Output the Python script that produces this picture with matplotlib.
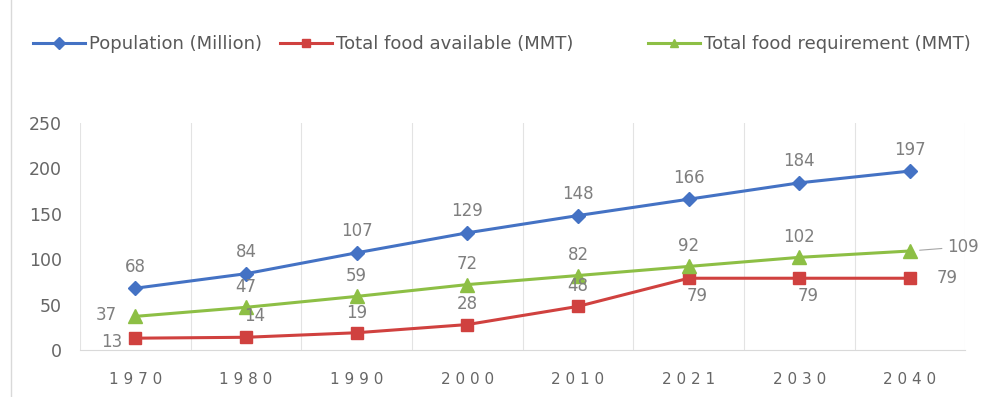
import matplotlib.pyplot as plt
import numpy as np

years = ['1970', '1980', '1990', '2000', '2010', '2021', '2030', '2040']
population = [68, 84, 107, 129, 148, 166, 184, 197]
food_available = [13, 14, 19, 28, 48, 79, 79, 79]
food_required = [37, 47, 59, 72, 82, 92, 102, 109]

blue = '#4472C4'
red = '#D0413F'
green = '#8DBF45'
gray = '#7F7F7F'

fig = plt.figure(figsize=(9.88, 3.97), dpi=100)
ax = fig.add_axes([0.081, 0.1184, 0.896, 0.572])

x = np.arange(len(years))
l1, = ax.plot(x, population, color=blue, lw=2.2, marker='D', ms=7.5, label='Population (Million)')
l2, = ax.plot(x, food_available, color=red, lw=2.2, marker='s', ms=9, label='Total food available (MMT)')
l3, = ax.plot(x, food_required, color=green, lw=2.2, marker='^', ms=9.5, label='Total food requirement (MMT)')

ax.set_xlim(-0.5, len(years) - 0.5)
ax.set_ylim(0, 250)
ax.set_yticks([0, 50, 100, 150, 200, 250])
ax.set_xticks(x)
ax.set_xticklabels([' '.join(y) for y in years])
ax.set_xticks(np.arange(len(years) + 1) - 0.5, minor=True)
ax.grid(True, which='minor', axis='x', color='#E3E3E3', lw=0.8)
ax.tick_params(which='both', length=0)
ax.tick_params(axis='x', pad=16, labelsize=11, colors='#666666')
ax.tick_params(axis='y', pad=13, labelsize=12.5, colors='#666666')
for s in ['top', 'right', 'left']:
    ax.spines[s].set_visible(False)
ax.spines['bottom'].set_color('#D9D9D9')

fs = 12
lab = dict(color=gray, fontsize=fs, ha='center')
for i, v in enumerate(population):
    ax.annotate(str(v), (i, v), xytext=(0, 9), textcoords='offset points', va='bottom', **lab)
for i, v in enumerate(food_required):
    if i == 0:
        ax.annotate(str(v), (i, v), xytext=(-13, 1), textcoords='offset points', va='center',
                    color=gray, fontsize=fs, ha='right')
    elif i == len(years) - 1:
        ax.annotate(str(v), (i, v), xytext=(27, 3), textcoords='offset points', va='center',
                    color=gray, fontsize=fs, ha='left',
                    arrowprops=dict(arrowstyle='-', color='#A6A6A6', lw=0.8, shrinkA=2, shrinkB=7))
    else:
        ax.annotate(str(v), (i, v), xytext=(0, 8), textcoords='offset points', va='bottom', **lab)
for i, v in enumerate(food_available):
    if i == 0:
        ax.annotate(str(v), (i, v), xytext=(-9, -3), textcoords='offset points', va='center',
                    color=gray, fontsize=fs, ha='right')
    elif i == 1:
        ax.annotate(str(v), (i, v), xytext=(6, 9), textcoords='offset points', va='bottom', **lab)
    elif i in (5, 6):
        ax.annotate(str(v), (i, v), xytext=(6, -6), textcoords='offset points', va='top', **lab)
    elif i == len(years) - 1:
        ax.annotate(str(v), (i, v), xytext=(19, 0), textcoords='offset points', va='center',
                    color=gray, fontsize=fs, ha='left')
    else:
        ax.annotate(str(v), (i, v), xytext=(0, 8), textcoords='offset points', va='bottom', **lab)

# legend entries placed one by one, like the Excel original
for line, x0 in [(l1, 33), (l2, 280), (l3, 648)]:
    leg = fig.legend([line], [line.get_label()], loc='center left',
                     bbox_to_anchor=(x0 / 988, 1 - 44 / 397), frameon=False, borderpad=0,
                     borderaxespad=0, fontsize=13, handlelength=2.9, handletextpad=0.2,
                     labelcolor='#595959')
    for h in leg.legend_handles:
        h.set_markersize(6)

fig.add_artist(plt.Line2D([0.011, 0.011], [0, 1], color='#D9D9D9', lw=1))

fig.savefig('out.png', dpi=100)
